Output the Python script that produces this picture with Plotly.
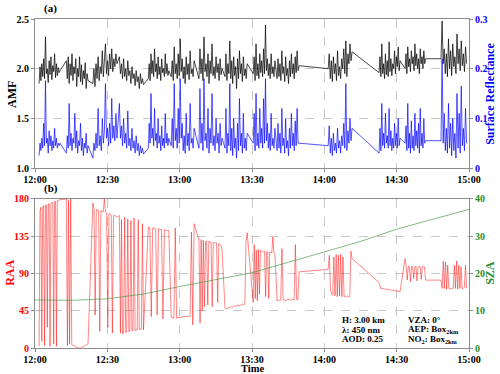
import numpy as np
import plotly.graph_objects as go

# measurement segments, minutes after 12:00
seg_start = [1.7, 13.0, 24.0, 35.0, 47.0, 56.5, 68.0, 78.8, 90.5, 100.4, 121.6, 142.7, 153.5, 168.4]
seg_end = [10.4, 22.0, 34.0, 45.0, 55.5, 66.0, 77.6, 88.0, 99.5, 109.5, 131.5, 151.4, 162.0, 179.0]

amf_segs = [
    [1.85, 2.02, 1.88, 2.05, 1.92, 2.10, 1.90, 2.32, 1.95, 2.00, 1.86, 2.08, 1.94, 2.12, 1.89, 2.03, 1.97, 2.15, 1.91, 2.05, 1.93, 2.01, 1.96, 1.98],
    [2.08, 1.90, 2.12, 1.85, 2.05, 1.93, 2.15, 1.88, 2.02, 1.95, 2.10, 1.82, 2.00, 1.92, 2.12, 1.87, 2.04, 1.84, 1.98, 1.90, 2.06, 1.80, 1.95, 1.88],
    [1.85, 2.00, 1.82, 2.05, 1.90, 2.12, 1.88, 2.02, 1.95, 2.18, 1.92, 2.05, 2.25, 1.95, 2.08, 1.93, 2.15, 2.00, 2.20, 1.97, 2.10, 2.02, 2.15, 2.05],
    [2.12, 1.95, 2.05, 1.90, 2.10, 1.92, 2.00, 1.88, 2.08, 1.93, 1.98, 1.85, 2.02, 1.90, 1.95, 1.83, 1.98, 1.87, 1.92, 1.80, 1.95, 1.85, 1.90, 1.84],
    [1.90, 2.05, 1.88, 2.15, 1.95, 2.08, 1.92, 2.20, 1.97, 2.05, 1.90, 2.12, 1.94, 2.02, 1.88, 2.10, 1.96, 2.00, 1.92, 2.15, 1.95, 2.05, 1.93, 1.98],
    [1.92, 2.08, 1.88, 2.22, 1.95, 2.05, 1.90, 2.15, 1.93, 2.30, 1.97, 2.10, 1.90, 2.02, 1.85, 2.12, 1.94, 2.05, 1.89, 2.18, 1.95, 2.00, 1.92, 2.08],
    [1.90, 2.20, 1.95, 2.10, 1.88, 2.32, 1.97, 2.05, 1.92, 2.15, 1.85, 2.08, 1.95, 2.25, 1.93, 2.02, 1.90, 2.12, 1.96, 2.05, 1.88, 2.10, 1.94, 2.00],
    [1.92, 2.15, 1.88, 2.05, 1.95, 2.28, 1.90, 2.08, 1.85, 2.12, 1.93, 2.02, 1.80, 2.10, 1.90, 2.18, 1.95, 2.05, 1.87, 2.12, 1.93, 2.00, 1.90, 2.05],
    [1.95, 2.12, 1.88, 2.25, 1.93, 2.05, 1.90, 2.15, 1.96, 2.08, 1.92, 2.20, 1.95, 2.44, 1.98, 2.10, 1.93, 2.05, 1.90, 2.15, 1.95, 2.02, 1.92, 2.08],
    [1.90, 2.10, 1.92, 2.05, 1.88, 2.18, 1.95, 2.02, 1.87, 2.12, 1.93, 2.00, 1.85, 2.08, 1.92, 2.15, 1.95, 2.05, 1.90, 2.12, 1.96, 2.18, 1.98, 2.03],
    [2.00, 2.15, 1.90, 2.08, 1.87, 2.12, 1.95, 2.05, 1.88, 2.18, 1.93, 2.02, 1.90, 2.10, 2.00, 2.20, 1.95, 2.28, 1.92, 2.15, 2.05, 2.25, 2.08, 2.17],
    [1.96, 2.12, 1.92, 2.25, 1.95, 2.05, 1.90, 2.15, 1.94, 2.08, 1.92, 2.27, 1.97, 2.10, 1.93, 2.05, 2.00, 2.18, 1.95, 2.12, 2.02, 2.22, 1.98, 2.08],
    [2.00, 2.15, 1.95, 2.22, 2.02, 2.10, 1.97, 2.18, 2.05, 2.12, 1.98, 2.25, 2.03, 2.15, 2.00, 2.10, 1.95, 2.20, 2.05, 2.12, 2.00, 2.18, 2.05, 2.10],
    [2.10, 2.48, 2.05, 2.20, 1.95, 2.15, 1.92, 2.30, 2.00, 2.18, 1.93, 2.25, 2.02, 2.12, 1.95, 2.35, 2.05, 2.20, 1.98, 2.28, 2.03, 2.15, 1.97, 2.22, 2.05],
]

sr_segs = [
    [0.025, 0.05, 0.035, 0.06, 0.04, 0.09, 0.045, 0.176, 0.05, 0.06, 0.03, 0.075, 0.045, 0.065, 0.035, 0.055, 0.04, 0.08, 0.045, 0.06, 0.04, 0.05, 0.045, 0.05],
    [0.03, 0.065, 0.04, 0.13, 0.045, 0.07, 0.035, 0.06, 0.05, 0.11, 0.04, 0.075, 0.03, 0.055, 0.045, 0.09, 0.035, 0.06, 0.025, 0.05, 0.04, 0.07, 0.03, 0.045],
    [0.02, 0.05, 0.035, 0.07, 0.04, 0.12, 0.045, 0.065, 0.035, 0.10, 0.05, 0.075, 0.17, 0.06, 0.08, 0.045, 0.09, 0.05, 0.14, 0.06, 0.085, 0.055, 0.11, 0.06],
    [0.13, 0.06, 0.085, 0.045, 0.10, 0.05, 0.07, 0.04, 0.115, 0.045, 0.06, 0.035, 0.08, 0.04, 0.055, 0.03, 0.065, 0.035, 0.05, 0.025, 0.045, 0.03, 0.04, 0.028],
    [0.04, 0.09, 0.05, 0.15, 0.06, 0.08, 0.045, 0.12, 0.055, 0.07, 0.04, 0.10, 0.05, 0.065, 0.035, 0.085, 0.045, 0.06, 0.04, 0.11, 0.05, 0.07, 0.045, 0.06],
    [0.045, 0.10, 0.04, 0.17, 0.055, 0.08, 0.04, 0.12, 0.05, 0.18, 0.06, 0.09, 0.035, 0.065, 0.03, 0.11, 0.045, 0.07, 0.035, 0.13, 0.05, 0.06, 0.04, 0.08],
    [0.04, 0.16, 0.05, 0.09, 0.035, 0.18, 0.055, 0.07, 0.04, 0.12, 0.03, 0.08, 0.05, 0.15, 0.045, 0.065, 0.035, 0.10, 0.05, 0.07, 0.03, 0.09, 0.045, 0.06],
    [0.04, 0.12, 0.03, 0.07, 0.045, 0.17, 0.035, 0.08, 0.025, 0.10, 0.04, 0.06, 0.02, 0.09, 0.035, 0.14, 0.045, 0.07, 0.03, 0.11, 0.04, 0.06, 0.035, 0.07],
    [0.05, 0.11, 0.035, 0.15, 0.045, 0.07, 0.04, 0.12, 0.05, 0.08, 0.04, 0.14, 0.05, 0.18, 0.055, 0.09, 0.04, 0.07, 0.035, 0.11, 0.045, 0.06, 0.04, 0.08],
    [0.035, 0.09, 0.04, 0.07, 0.03, 0.12, 0.045, 0.06, 0.03, 0.10, 0.04, 0.055, 0.025, 0.08, 0.04, 0.11, 0.045, 0.07, 0.035, 0.095, 0.045, 0.12, 0.05, 0.05],
    [0.045, 0.085, 0.03, 0.06, 0.025, 0.07, 0.035, 0.05, 0.03, 0.08, 0.04, 0.055, 0.03, 0.065, 0.045, 0.09, 0.04, 0.17, 0.035, 0.075, 0.05, 0.10, 0.055, 0.08],
    [0.03, 0.08, 0.035, 0.13, 0.045, 0.07, 0.04, 0.11, 0.05, 0.065, 0.04, 0.12, 0.045, 0.075, 0.035, 0.06, 0.04, 0.09, 0.045, 0.07, 0.04, 0.10, 0.045, 0.06],
    [0.05, 0.085, 0.035, 0.13, 0.04, 0.07, 0.03, 0.095, 0.04, 0.065, 0.035, 0.11, 0.045, 0.075, 0.04, 0.09, 0.03, 0.12, 0.045, 0.07, 0.04, 0.10, 0.05, 0.055],
    [0.055, 0.22, 0.05, 0.11, 0.035, 0.08, 0.03, 0.13, 0.04, 0.09, 0.025, 0.10, 0.035, 0.07, 0.02, 0.15, 0.04, 0.11, 0.03, 0.165, 0.045, 0.08, 0.035, 0.12, 0.05],
]

raa_segs = [
    [2, 165, 170, 8, 171, 172, 3, 172, 173, 25, 174, 174, 2, 175, 176, 176, 5, 177, 177, 2, 178, 178, 179, 179],
    [180, 3, 178, 5, 180, 4, 3, 3, 2, 1, 1, 0, 0, 0, 1, 1, 2, 3, 4, 5, 5],
    [175, 168, 40, 167, 167, 166, 20, 166, 165, 164, 180, 164, 163, 25, 162, 162, 161, 18, 160, 160, 159, 158],
    [160, 18, 155, 17, 18, 158, 19, 19, 156, 20, 20, 154, 21, 21, 157, 21, 22, 22, 155, 22, 23, 23, 150, 22],
    [146, 146, 38, 145, 145, 144, 40, 144, 143, 143, 35, 143, 142, 142, 142],
    [37, 36, 36, 145, 36, 37, 37, 37, 37, 38, 38, 38, 38, 38, 39, 140, 28, 150],
    [130, 30, 131, 45, 130, 50, 129, 129, 52, 129, 128, 128, 50, 128, 127, 127, 127, 55, 126, 125, 124, 118],
    [48, 47, 48, 49, 49, 50, 49, 50, 51, 50, 51, 52, 51, 52, 52, 53, 52, 53, 128, 139],
    [55, 125, 60, 118, 57, 119, 65, 118, 117, 117, 116, 117, 62, 116, 116, 60, 116, 115, 115, 134, 115, 114],
    [57, 58, 57, 58, 120, 58, 58, 57, 58, 59, 58, 58, 59, 58, 58, 125, 59, 58, 92],
    [95, 112, 70, 65, 64, 110, 63, 113, 62, 112, 63, 113, 62, 110, 62, 63, 62, 63, 62, 62, 117, 108],
    [79, 72, 72, 71, 71, 71, 70, 70, 70, 69, 69, 69, 68, 68],
    [108, 99, 82, 99, 98, 80, 99, 98, 84, 98, 99, 81, 98, 99, 98, 83, 98, 99, 98, 82],
    [82, 72, 105, 72, 104, 71, 100, 72, 72, 71, 72, 72, 100, 72, 105, 71, 100, 72, 98, 72, 72, 73, 100, 72],
]

sza_time = [0, 15, 30, 45, 60, 75, 90, 105, 120, 135, 150, 165, 180]
sza_vals = [12.9, 12.8, 13.2, 14.5, 16.5, 18.3, 20.2, 23.0, 25.9, 28.6, 31.9, 34.5, 37.2]

tick_min = [0, 30, 60, 90, 120, 150, 180]
tick_txt = ["12:00", "12:30", "13:00", "13:30", "14:00", "14:30", "15:00"]


def flatten(segs):
    t, v = [], []
    for s, e, vals in zip(seg_start, seg_end, segs):
        t.extend(np.linspace(s, e, len(vals)))
        v.extend(vals)
    return t, v


FONT = "Liberation Serif"
GRID = "#c8c8c8"
AXL = "#8c8c8c"
BLUE = "#0000ff"
RED = "#ff0000"
GREEN = "#2a8c2a"

fig = go.Figure()
t, v = flatten(amf_segs)
fig.add_trace(go.Scatter(x=t, y=v, mode="lines", line=dict(color="rgba(0,0,0,0.9)", width=0.8),
                         xaxis="x", yaxis="y"))
t, v = flatten(sr_segs)
fig.add_trace(go.Scatter(x=t, y=v, mode="lines", line=dict(color="rgba(0,0,255,0.85)", width=0.8),
                         xaxis="x", yaxis="y2"))
t, v = flatten(raa_segs)
fig.add_trace(go.Scatter(x=t, y=v, mode="lines", line=dict(color="rgba(255,0,0,0.6)", width=0.8),
                         xaxis="x2", yaxis="y3"))
fig.add_trace(go.Scatter(x=sza_time, y=sza_vals, mode="lines",
                         line=dict(color="rgba(60,150,60,0.65)", width=1), xaxis="x2", yaxis="y4"))

tickfont = dict(family=FONT, size=10, weight="bold", color="black")
xcommon = dict(range=[0, 180], tickvals=tick_min, ticktext=tick_txt, showgrid=True, gridcolor=GRID,
               griddash="dash", gridwidth=0.8, showline=True, linecolor=AXL, mirror=True,
               ticks="outside", ticklen=3, tickcolor=AXL, tickfont=tickfont, zeroline=False,
               automargin=False, ticklabelstandoff=-1)
ycommon = dict(showline=True, linecolor=AXL, ticks="outside", ticklen=3, tickcolor=AXL, zeroline=False,
               automargin=False)

top_dom = [0.547, 1.0]
bot_dom = [0.0, 0.453]

fig.update_layout(
    width=500, height=374,
    margin=dict(l=35, r=31, t=19, b=26),
    paper_bgcolor="white", plot_bgcolor="white",
    showlegend=False,
    font=dict(family=FONT, size=10, color="black"),
    xaxis=dict(**xcommon, anchor="y"),
    yaxis=dict(**ycommon, domain=top_dom, range=[1, 2.5], tickvals=[1, 1.5, 2, 2.5],
               ticktext=["1.0", "1.5", "2.0", "2.5"], showgrid=True, gridcolor=GRID,
               griddash="dash", gridwidth=0.8, tickfont=tickfont),
    yaxis2=dict(**ycommon, overlaying="y", side="right", anchor="x", range=[0, 0.3],
                tickvals=[0, 0.1, 0.2, 0.3], ticktext=["0", "0.1", "0.2", "0.3"], showgrid=False,
                tickfont=dict(family=FONT, size=10, weight="bold", color=BLUE)),
    xaxis2=dict(**xcommon, anchor="y3"),
    yaxis3=dict(**ycommon, domain=bot_dom, anchor="x2", range=[0, 180], tickvals=[0, 45, 90, 135, 180],
                ticksuffix="°", showgrid=True, gridcolor=GRID, griddash="dash", gridwidth=0.8,
                tickfont=dict(family=FONT, size=10, weight="bold", color=RED)),
    yaxis4=dict(**ycommon, overlaying="y3", side="right", anchor="x2", range=[0, 40],
                tickvals=[0, 10, 20, 30, 40], ticksuffix="°", showgrid=False,
                tickfont=dict(family=FONT, size=10, weight="bold", color=GREEN)),
)


def label(text, x, y, color="black", size=12, angle=0):
    fig.add_annotation(text=text, x=x, y=y, xref="paper", yref="paper", showarrow=False,
                       textangle=angle, xanchor="center", yanchor="middle",
                       font=dict(family=FONT, size=size, weight="bold", color=color))


# axis titles as annotations so margins stay fixed
label("AMF", -0.053, 0.772, angle=-90)
label("Surface Reflectance", 1.048, 0.772, color=BLUE, angle=-90)
label("RAA", -0.058, 0.228, color=RED, angle=-90)
label("SZA", 1.048, 0.228, color=GREEN, angle=-90)
label("Time", 0.5, -0.062, size=10.5)

fig.add_annotation(text="(a)", x=0.016, y=1.033, xref="paper", yref="paper", showarrow=False,
                   xanchor="left", yanchor="middle", font=dict(family=FONT, size=11, weight="bold"))
fig.add_annotation(text="(b)", x=0.016, y=0.486, xref="paper", yref="paper", showarrow=False,
                   xanchor="left", yanchor="middle", font=dict(family=FONT, size=11, weight="bold"))

afont = dict(family=FONT, size=9, weight="bold", color="black")
info_left = ["H: 3.00 km", "λ: 450 nm", "AOD: 0.25"]
info_right = ["VZA: 0°", "AEP: Box<sub>2km</sub>", "NO<sub>2</sub>: Box<sub>2km</sub>"]
for i, (a, b) in enumerate(zip(info_left, info_right)):
    yy = 0.085 - i * 0.029
    fig.add_annotation(text=a, x=0.703, y=yy, xref="paper", yref="paper", showarrow=False,
                       xanchor="left", yanchor="middle", font=afont)
    fig.add_annotation(text=b, x=0.855, y=yy, xref="paper", yref="paper", showarrow=False,
                       xanchor="left", yanchor="middle", font=afont)

# drop the default 8px body margin so the 500x374 figure fills the window
fig.write_html("out.html", config={"displayModeBar": False},
               post_script="document.body.style.margin = '0';")
